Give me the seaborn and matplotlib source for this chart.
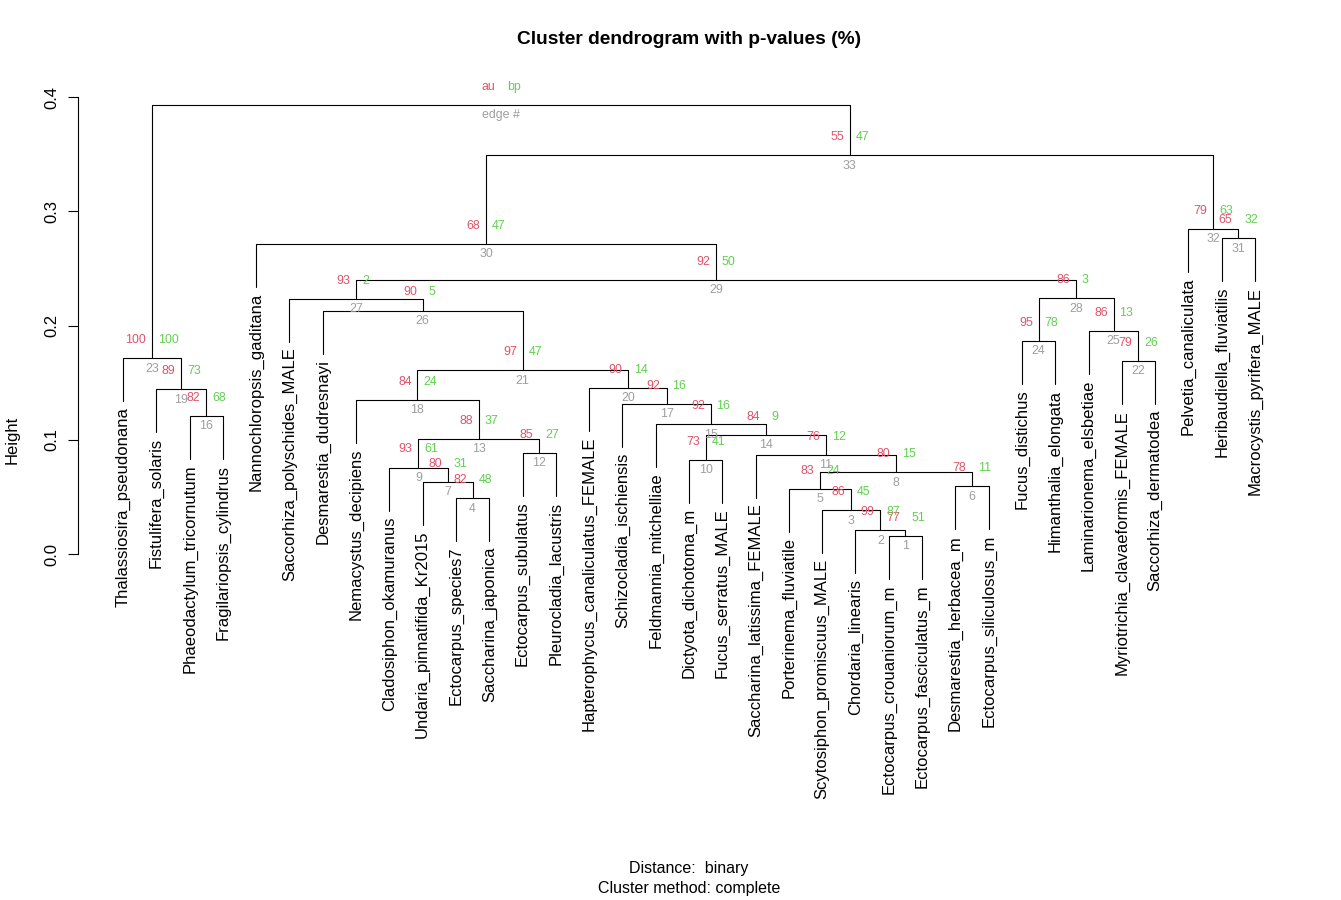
import numpy as np
import pandas as pd
import seaborn as sns
import matplotlib
matplotlib.use('Agg')
import matplotlib.pyplot as plt

# leaves in plotting order
leaves = ['Thalassiosira_pseudonana', 'Fistulifera_solaris', 'Phaeodactylum_tricornutum',
          'Fragilariopsis_cylindrus', 'Nannochloropsis_gaditana', 'Saccorhiza_polyschides_MALE',
          'Desmarestia_dudresnayi', 'Nemacystus_decipiens', 'Cladosiphon_okamuranus',
          'Undaria_pinnatifida_Kr2015', 'Ectocarpus_species7', 'Saccharina_japonica',
          'Ectocarpus_subulatus', 'Pleurocladia_lacustris', 'Hapterophycus_canaliculatus_FEMALE',
          'Schizocladia_ischiensis', 'Feldmannia_mitchelliae', 'Dictyota_dichotoma_m',
          'Fucus_serratus_MALE', 'Saccharina_latissima_FEMALE', 'Porterinema_fluviatile',
          'Scytosiphon_promiscuus_MALE', 'Chordaria_linearis', 'Ectocarpus_crouaniorum_m',
          'Ectocarpus_fasciculatus_m', 'Desmarestia_herbacea_m', 'Ectocarpus_siliculosus_m',
          'Fucus_distichus', 'Himanthalia_elongata', 'Laminarionema_elsbetiae',
          'Myriotrichia_clavaeformis_FEMALE', 'Saccorhiza_dermatodea', 'Pelvetia_canaliculata',
          'Heribaudiella_fluviatilis', 'Macrocystis_pyrifera_MALE']

# hclust style merges: negative = leaf (1-based position), positive = earlier merge (edge #)
merge_left = [-24, -23, -22, -11, -21, -26, -10, 5, -9, -18, -20, -13, 9, 10, -17, -3, -16,
              -8, -2, -15, 18, -31, -1, -28, -30, -7, -6, 24, 27, -5, -34, -33, 30, 23]
merge_right = [-25, 1, 2, -12, 3, -27, 4, 6, 7, -19, 8, -14, 12, 11, 14, -4, 15,
               13, 16, 17, 20, -32, 19, -29, 22, 21, 26, 25, 28, 29, -35, 31, 32, 33]
heights = [0.0160, 0.0208, 0.0383, 0.0489, 0.0572, 0.0593, 0.0632, 0.0715, 0.0757, 0.0827,
           0.0869, 0.0884, 0.1007, 0.1045, 0.1137, 0.1208, 0.1316, 0.1350, 0.1442, 0.1456,
           0.1609, 0.1690, 0.1714, 0.1865, 0.1953, 0.2132, 0.2233, 0.2239, 0.2399, 0.2717,
           0.2764, 0.2849, 0.3490, 0.3932]
au = [77, 99, 86, 82, 83, 78, 80, 80, 93, 73, 76, 85, 88, 84, 92, 82, 92, 84, 89, 90,
      97, 79, 100, 95, 86, 90, 93, 86, 92, 68, 65, 79, 55, 100]
bp = [51, 87, 45, 48, 24, 11, 31, 15, 61, 41, 12, 27, 37, 9, 16, 68, 16, 24, 73, 14,
      47, 26, 100, 78, 13, 5, 2, 3, 50, 47, 32, 63, 47, 100]

col_au = '#DF536B'
col_bp = '#61D04F'
col_edge = '#9E9E9E'

sns.set_theme(style='white')
plt.rcParams['font.family'] = ['Liberation Sans', 'DejaVu Sans']
plt.rcParams['text.color'] = 'black'
plt.rcParams['axes.labelcolor'] = 'black'
plt.rcParams['ytick.color'] = 'black'
plt.rcParams['ytick.labelcolor'] = 'black'

hang = 0.1 * (max(heights) - min(heights))

# node positions (x = midpoint of children)
node_x = {}
rows = []
for i, (l, r) in enumerate(zip(merge_left, merge_right)):
    e = i + 1
    h = heights[i]
    pts = []
    for c in (l, r):
        if c < 0:
            pts.append((-c, h - hang))
        else:
            pts.append((node_x[c], heights[c - 1]))
    node_x[e] = (pts[0][0] + pts[1][0]) / 2
    seq = [pts[0], (pts[0][0], h), (pts[1][0], h), pts[1]]
    for k, (xx, yy) in enumerate(seq):
        rows.append({'edge': e, 'order': k, 'x': xx, 'h': yy})
seg = pd.DataFrame(rows)

fig = plt.figure(figsize=(13.41, 9), dpi=100)
ax = fig.add_axes([77.7 / 1341, 102 / 900, 1222.6 / 1341, 716 / 900])

sns.lineplot(data=seg, x='x', y='h', units='edge', estimator=None, sort=False,
             color='black', lw=0.8, ax=ax, legend=False)

ax.set_xlim(-0.36, 36.36)
ax.set_ylim(-0.21366, 0.41331)

# leaf labels
for i, name in enumerate(leaves):
    pos = i + 1
    parent = None
    for j, (l, r) in enumerate(zip(merge_left, merge_right)):
        if l == -pos or r == -pos:
            parent = j
            break
    ax.annotate(name, xy=(pos, heights[parent] - hang), xytext=(0, -4),
                textcoords='offset points', rotation=90, ha='center', va='top',
                fontsize=12, color='black', annotation_clip=False)

# au / bp / edge numbers
nedge = len(heights)
for i in range(nedge):
    e = i + 1
    x = node_x[e]
    h = heights[i]
    if e == nedge:
        t_au, t_bp, t_e = 'au', 'bp', 'edge #'
    else:
        t_au, t_bp, t_e = str(au[i]), str(bp[i]), str(e)
    ax.annotate(t_au, xy=(x, h), xytext=(-4.2, 13), textcoords='offset points',
                ha='right', va='center', fontsize=8.9, color=col_au)
    ax.annotate(t_bp, xy=(x, h), xytext=(4.2, 13), textcoords='offset points',
                ha='left', va='center', fontsize=8.9, color=col_bp)
    ax.annotate(t_e, xy=(x, h), xytext=(0, -7.5), textcoords='offset points',
                ha='center', va='center', fontsize=8.9, color=col_edge)

for s in ('top', 'right', 'bottom'):
    ax.spines[s].set_visible(False)
ax.spines['left'].set_color('black')
ax.spines['left'].set_linewidth(0.8)
ax.spines['left'].set_bounds(0, 0.4)
ax.set_xticks([])
ax.set_yticks([0, 0.1, 0.2, 0.3, 0.4])
ax.set_yticklabels(['0.0', '0.1', '0.2', '0.3', '0.4'], rotation=90, va='center')
ax.tick_params(axis='y', left=True, length=7.2, width=0.8, pad=6, labelsize=12,
               direction='out', color='black', labelcolor='black')
ax.set_xlabel('')
ax.set_ylabel('')

fig.text(12 / 1341, 1 - 440 / 900, 'Height', rotation=90, ha='center', va='center',
         fontsize=12, color='black')
fig.text(689 / 1341, 1 - 40 / 900, 'Cluster dendrogram with p-values (%)',
         ha='center', va='center', fontsize=13.8, fontweight='bold', color='black')
fig.text(689 / 1341, 1 - 869 / 900, 'Distance:  binary', ha='center', va='center',
         fontsize=11.5, color='black')
fig.text(689 / 1341, 1 - 888 / 900, 'Cluster method: complete', ha='center', va='center',
         fontsize=11.5, color='black')

fig.savefig('out.png', dpi=100, facecolor='white')
